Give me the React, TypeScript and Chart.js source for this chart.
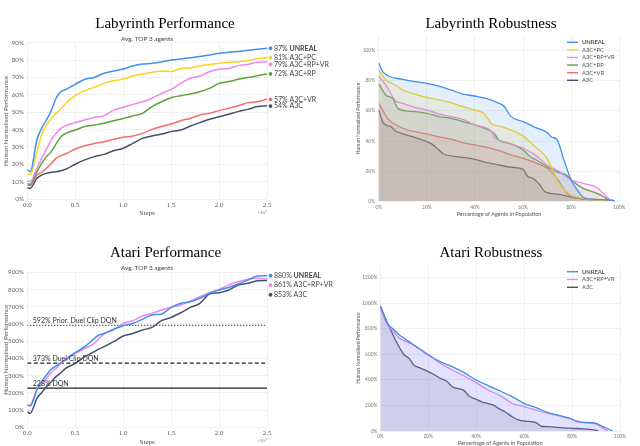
import React, { useEffect, useRef } from "react";
import { Chart, registerables } from "chart.js";
Chart.register(...registerables);

// ---------------- DATA ----------------
// Labyrinth Performance (x in units of 1e7 steps, y in %)
const labSteps = [0, 0.03, 0.1, 0.15, 0.2, 0.25, 0.3, 0.35, 0.4, 0.5, 0.6, 0.7, 0.8, 0.9, 1.0, 1.1, 1.2, 1.3, 1.4, 1.5, 1.6, 1.7, 1.8, 1.9, 2.0, 2.1, 2.2, 2.3, 2.4, 2.5];
const labUnreal = [17, 15.7, 34, 40.7, 45.5, 51, 58, 61.8, 63, 66, 69, 70, 72.4, 73.7, 74.8, 76.6, 77.7, 78.1, 78.9, 80, 80.6, 81.4, 82, 82.9, 83.9, 84.5, 85, 85.6, 86.2, 86.8];
const labPc = [14.8, 13.8, 27, 37, 42.6, 46.4, 49.3, 52, 55, 59.5, 62.4, 64.3, 66.6, 68.1, 69.1, 70.8, 72, 72.9, 73.7, 73.3, 75.2, 75.6, 76.6, 77.4, 78.1, 78.7, 79.1, 79.7, 80.8, 81.4];
const labRpVr = [10.4, 10, 17.7, 23.4, 28.6, 34, 37.8, 40.7, 42.2, 44, 45.5, 47, 48, 51.2, 52.8, 54.5, 56, 58, 60.8, 63.1, 66.6, 69.5, 70.8, 73.3, 74.7, 75.2, 76.8, 77.5, 78.7, 78.9];
const labRp = [9, 8.4, 15.7, 20.5, 24.4, 27.3, 31.7, 35.9, 37.8, 39.7, 41.7, 42.6, 43.6, 45.1, 46.4, 47.8, 49.3, 53.2, 56, 58.3, 59.5, 60.5, 61.8, 63.7, 66.6, 67.6, 68.9, 69.9, 71, 72];
const labVr = [8, 7.7, 13.8, 15.4, 17.7, 20.5, 23.4, 25, 25.9, 28.8, 30.7, 32, 33, 34.4, 35.5, 36.3, 37.8, 40.1, 41.7, 43.2, 45.1, 46.4, 48.4, 49.3, 50.9, 52.2, 53.7, 55.5, 56, 57.4];
const labA3c = [6.5, 6.1, 11.9, 13.8, 14.8, 15.4, 15.7, 16.3, 17.1, 20, 22.5, 24.4, 25.7, 27.8, 29.2, 32, 34.9, 36.3, 37.4, 38.8, 39.7, 42, 44, 45.9, 47.4, 48.8, 50.3, 51.6, 53.2, 53.7];

// Labyrinth Robustness (x: % of agents, y: %)
const labRobUnrealX = [0, 2, 10, 15, 20, 25, 30, 35, 40, 45, 50, 52, 55, 60, 65, 70, 72, 74, 77, 80, 83, 85, 90, 95, 98];
const labRobUnrealY = [92, 85.4, 81, 79.4, 78.3, 76.5, 73.9, 71.2, 69.9, 68.1, 65, 63.3, 56.2, 52.9, 49.1, 45.6, 42.5, 41.2, 27.4, 14.2, 6.4, 2.7, 1.3, 0.9, 0.4];
const labRobPcX = [0, 3, 7, 10, 15, 20, 25, 30, 35, 40, 44, 47, 50, 55, 60, 65, 70, 72, 75, 78, 80, 85, 90, 95];
const labRobPcY = [87.2, 80.5, 77.2, 73.9, 71.2, 69, 67.3, 65.5, 62.8, 60.6, 58, 51.3, 50, 47.3, 43.4, 36.3, 28.5, 21.9, 11.9, 6.4, 4.2, 2, 0.9, 0.4];
const labRobRpVrX = [0, 3, 7, 10, 15, 20, 25, 30, 35, 40, 45, 47, 48.5, 50, 55, 60, 65, 70, 75, 80, 85, 90, 93, 96, 98];
const labRobRpVrY = [83.2, 77.2, 66.8, 65, 62.4, 60.6, 58, 56.2, 54.4, 50.7, 48.5, 46.2, 41.8, 40.7, 38.1, 35.2, 30.8, 24.1, 19.7, 14.2, 11.9, 9.7, 5.8, 1.3, 0.4];
const labRobRpX = [0, 3, 6, 8, 15, 20, 25, 30, 35, 40, 45, 48, 50, 55, 60, 63, 65, 70, 75, 78, 80, 85, 90, 93, 96, 98];
const labRobRpY = [77.9, 70.6, 67.9, 61.7, 59.5, 58.4, 56.2, 55.1, 52.9, 50.7, 47.8, 45.1, 40.7, 38.1, 34.1, 29.6, 27.9, 23, 19, 17.5, 14.2, 8.6, 5.8, 3.5, 0.9, 0.4];
const labRobVrX = [0, 2, 4, 8, 10, 15, 20, 25, 30, 35, 40, 45, 50, 55, 60, 65, 70, 73, 75, 78, 80, 85, 90, 95, 98];
const labRobVrY = [65, 59.5, 54.4, 50, 48.5, 46.2, 44.7, 42.9, 41.2, 38.9, 37.4, 35.8, 33.6, 30.8, 28.5, 25.7, 21.9, 17.5, 13.1, 5.8, 3.1, 2, 1.3, 0.9, 0.2];
const labRobA3cX = [0, 2, 5, 7, 10, 15, 20, 22, 25, 27, 30, 35, 40, 45, 50, 55, 60, 62, 64, 67, 69, 75, 80, 85, 90, 95];
const labRobA3cY = [60.6, 51.8, 49.6, 46.7, 44.7, 42.5, 39.6, 38.1, 34.1, 31.4, 30.1, 29.2, 27.9, 25.7, 24.1, 22.6, 21.2, 16.4, 15.3, 10.8, 6.4, 4.6, 2.7, 1.5, 0.9, 0.4];

// Atari Performance
const atariSteps = [0, 0.03, 0.07, 0.1, 0.15, 0.2, 0.25, 0.3, 0.35, 0.4, 0.5, 0.6, 0.7, 0.75, 0.8, 0.9, 1.0, 1.1, 1.2, 1.3, 1.4, 1.5, 1.6, 1.7, 1.8, 1.9, 2.0, 2.1, 2.2, 2.3, 2.4, 2.5];
const atariUnreal = [130, 124, 168, 217, 265, 304, 337, 356, 375, 395, 433, 468, 516, 536, 545, 569, 590, 603, 627, 652, 658, 696, 720, 729, 749, 778, 797, 812, 832, 855, 878, 880];
const atariRpVr = [133, 126, 178, 220, 251, 284, 317, 342, 371, 391, 429, 458, 487, 516, 542, 565, 603, 619, 646, 661, 681, 696, 710, 733, 758, 781, 801, 826, 845, 859, 865, 861];
const atariA3c = [91, 81, 124, 168, 201, 236, 265, 294, 317, 342, 371, 410, 439, 455, 468, 497, 530, 545, 565, 580, 619, 638, 665, 696, 720, 774, 781, 797, 826, 836, 851, 853];
const atariRefValues = [592, 373, 228];
const atariRefNames = ["Prior. Duel Clip DQN", "Duel Clip DQN", "DQN"];

// Atari Robustness
const atariRobUnrealX = [0, 3, 5, 8, 10, 12, 15, 20, 25, 30, 35, 40, 45, 50, 55, 60, 65, 70, 75, 80, 82, 88, 90, 93, 96, 97];
const atariRobUnrealY = [979, 843, 804, 752, 726, 700, 661, 595, 543, 504, 457, 399, 355, 313, 269, 217, 183, 144, 120, 94, 73, 65, 60, 34, 8, 0];
const atariRobRpVrX = [0, 3, 5, 8, 10, 15, 20, 25, 30, 35, 40, 45, 50, 55, 60, 65, 70, 75, 80, 85, 90, 93, 95];
const atariRobRpVrY = [961, 830, 791, 726, 708, 661, 601, 530, 478, 431, 379, 321, 277, 217, 191, 164, 138, 117, 91, 65, 55, 21, 0];
const atariRobA3cX = [0, 3, 5, 7, 9, 10, 12, 14, 17, 20, 22, 25, 28, 30, 35, 37, 40, 42, 47, 50, 52, 55, 58, 60, 65, 67, 70, 75, 80, 85, 89, 91];
const atariRobA3cY = [979, 843, 765, 687, 621, 595, 569, 517, 491, 465, 446, 413, 386, 347, 316, 274, 248, 230, 204, 170, 151, 112, 86, 78, 65, 39, 34, 26, 21, 16, 8, 0];

const NAME_UNREAL = "UNREAL";
const NAME_PC = "A3C+PC";
const NAME_RPVR = "A3C+RP+VR";
const NAME_RP = "A3C+RP";
const NAME_VR = "A3C+VR";
const NAME_A3C = "A3C";

// ---------------- STYLE ----------------
const COL = {
  unreal: "#4290ea",
  pc: "#fdd31c",
  rpvr: "#ee86ee",
  rp: "#5ca13c",
  vr: "#f36d6d",
  a3c: "#46516a",
};
const SANS = "Lato";
const SERIF = "'Liberation Serif'";

const pts = (xs: number[], ys: number[]) => xs.map((x, i) => ({ x, y: ys[i] }));
function rgba(hex: string, a: number) {
  const n = parseInt(hex.slice(1), 16);
  return `rgba(${(n >> 16) & 255},${(n >> 8) & 255},${n & 255},${a})`;
}
const fixX = (h: number) => (s: any) => { s.height = h; s.paddingLeft = 0; s.paddingRight = 0; };
const fixY = (w: number) => (s: any) => { s.width = w; s.paddingTop = 0; s.paddingBottom = 0; };

// ---------------- PLUGINS ----------------
const endLabelsPlugin = {
  id: "endLabels",
  afterDatasetsDraw(chart: any, _a: any, opts: any) {
    const { ctx, chartArea } = chart;
    const items: any[] = [];
    chart.data.datasets.forEach((ds: any, i: number) => {
      if (ds.isRef) return;
      const meta = chart.getDatasetMeta(i);
      const el = meta.data[meta.data.length - 1];
      const v = ds.data[ds.data.length - 1].y;
      items.push({ y: el.y, v, color: ds.borderColor, label: ds.label, bold: ds.label === NAME_UNREAL });
    });
    items.sort((a, b) => a.y - b.y);
    for (let k = 1; k < items.length; k++) {
      if (items[k].y - items[k - 1].y < opts.gap) items[k].y = items[k - 1].y + opts.gap;
    }
    ctx.save();
    ctx.textBaseline = "middle";
    items.forEach((it) => {
      const x0 = chartArea.right + 3.5;
      ctx.fillStyle = it.color;
      ctx.beginPath();
      ctx.arc(x0, it.y, 1.9, 0, Math.PI * 2);
      ctx.fill();
      const pre = `${Math.round(it.v)}% `;
      ctx.font = `${opts.size}px ${SANS}`;
      ctx.fillStyle = "#444";
      ctx.fillText(pre, x0 + 3.5, it.y);
      const w = ctx.measureText(pre).width;
      ctx.font = `${it.bold ? "bold " : ""}${opts.size}px ${SANS}`;
      ctx.fillText(it.label, x0 + 3.5 + w, it.y);
    });
    ctx.restore();
  },
};

const refLabelsPlugin = {
  id: "refLabels",
  afterDatasetsDraw(chart: any) {
    const { ctx, chartArea, scales } = chart;
    ctx.save();
    ctx.font = `7px ${SANS}`;
    ctx.fillStyle = "#333";
    ctx.textBaseline = "middle";
    chart.data.datasets.forEach((ds: any) => {
      if (!ds.isRef) return;
      const v = ds.data[0].y;
      const y = scales.y.getPixelForValue(v);
      ctx.fillText(`${v}% ${ds.label}`, chartArea.left + 5.5, y - 4.2);
    });
    ctx.restore();
  },
};

const expPlugin = {
  id: "expLabel",
  afterDraw(chart: any) {
    const { ctx, chartArea } = chart;
    ctx.save();
    ctx.font = `4.5px ${SERIF}`;
    ctx.fillStyle = "#666";
    ctx.textAlign = "right";
    ctx.textBaseline = "middle";
    const w = ctx.measureText("7").width;
    ctx.fillText("×10", chartArea.right - w, chartArea.bottom + 13.8);
    ctx.font = `3.5px ${SERIF}`;
    ctx.fillText("7", chartArea.right, chartArea.bottom + 12.6);
    ctx.restore();
  },
};

const robLegendPlugin = {
  id: "robLegend",
  afterDraw(chart: any, _a: any, opts: any) {
    const { ctx, chartArea } = chart;
    const x0 = chartArea.right + opts.dx;
    let y = chartArea.top + opts.dy;
    ctx.save();
    ctx.textBaseline = "middle";
    chart.data.datasets.forEach((ds: any) => {
      ctx.strokeStyle = ds.borderColor;
      ctx.lineWidth = 1.4;
      ctx.beginPath();
      ctx.moveTo(x0, y);
      ctx.lineTo(x0 + 11, y);
      ctx.stroke();
      ctx.fillStyle = "#555";
      ctx.font = `${ds.label === NAME_UNREAL ? "bold " : ""}5.8px ${SANS}`;
      ctx.fillText(ds.label, x0 + 15, y);
      y += opts.step;
    });
    ctx.restore();
  },
};

// ---------------- CONFIG BUILDERS ----------------
const GRID = { color: "#ececec", lineWidth: 0.8, drawTicks: false };

function perfScales(yMax: number, yStep: number, yW: number, xH: number, xTitlePad: number) {
  return {
    x: {
      type: "linear",
      min: 0,
      max: 2.5,
      ticks: { stepSize: 0.5, autoSkip: false, maxRotation: 0, callback: (v: any) => Number(v).toFixed(1), font: { family: SERIF, size: 7 }, color: "#555", padding: 1.5 },
      grid: GRID,
      border: { display: false },
      title: { display: true, text: "Steps", font: { family: SERIF, size: 7, lineHeight: 1 }, color: "#444", padding: { top: 0, bottom: xTitlePad } },
      afterFit: fixX(xH),
    },
    y: {
      type: "linear",
      min: 0,
      max: yMax,
      ticks: { stepSize: yStep, callback: (v: any) => `${v}%`, font: { family: SANS, size: 6.3 }, color: "#666", padding: 3.3 },
      grid: GRID,
      border: { display: false },
      title: { display: true, text: "Human Normalised Performance", font: { family: SANS, size: 6.3, lineHeight: 1 }, color: "#555", padding: { top: 2.5, bottom: 0 } },
      afterFit: fixY(yW),
    },
  };
}

function robScales(yMax: number, yStep: number, yW: number, xH: number, xTickPad: number, xTitlePad: number, yTickPad: number) {
  return {
    x: {
      type: "linear",
      min: 0,
      max: 100,
      ticks: { stepSize: 20, autoSkip: false, maxRotation: 0, callback: (v: any) => `${v}%`, font: { family: SANS, size: 4.8 }, color: "#777", padding: xTickPad },
      grid: GRID,
      border: { display: false },
      title: { display: true, text: "Percentage of Agents in Population", font: { family: SANS, size: 5.5, lineHeight: 1 }, color: "#555", padding: { top: 0, bottom: xTitlePad } },
      afterFit: fixX(xH),
    },
    y: {
      type: "linear",
      min: 0,
      max: yMax,
      ticks: { stepSize: yStep, includeBounds: false, callback: (v: any) => `${v}%`, font: { family: SANS, size: 4.8 }, color: "#777", padding: yTickPad },
      grid: GRID,
      border: { display: false },
      title: { display: true, text: "Human Normalised Performance", font: { family: SANS, size: 5, lineHeight: 1 }, color: "#555", padding: { top: 35.8, bottom: 0 } },
      afterFit: fixY(yW),
    },
  };
}

function lineDs(label: string, data: any[], color: string, extra: any = {}) {
  return {
    label,
    data,
    borderColor: color,
    backgroundColor: color,
    borderWidth: 1.5,
    pointRadius: 0,
    cubicInterpolationMode: "monotone",
    fill: false,
    ...extra,
  };
}

function labPerfConfig(): any {
  return {
    type: "line",
    data: {
      datasets: [
        lineDs(NAME_UNREAL, pts(labSteps, labUnreal), COL.unreal),
        lineDs(NAME_PC, pts(labSteps, labPc), COL.pc),
        lineDs(NAME_RPVR, pts(labSteps, labRpVr), COL.rpvr),
        lineDs(NAME_RP, pts(labSteps, labRp), COL.rp),
        lineDs(NAME_VR, pts(labSteps, labVr), COL.vr),
        lineDs(NAME_A3C, pts(labSteps, labA3c), COL.a3c),
      ],
    },
    options: {
      animation: false,
      responsive: true,
      maintainAspectRatio: false,
      layout: { padding: { left: 0, top: 42.7, right: 73, bottom: 0 } },
      scales: perfScales(90, 10, 27.3, 26, 8.2),
      plugins: { legend: { display: false }, tooltip: { enabled: false }, endLabels: { gap: 6.8, size: 7 } },
    },
    plugins: [endLabelsPlugin, expPlugin],
  };
}

function atariPerfConfig(): any {
  const dashes = [[1, 2], [4, 2.5], []];
  const refs = atariRefValues.map((v, i) =>
    lineDs(atariRefNames[i], [{ x: 0, y: v }, { x: 2.5, y: v }], "#222", { isRef: true, borderDash: dashes[i], borderWidth: 1.2, cubicInterpolationMode: "default", tension: 0 })
  );
  return {
    type: "line",
    data: {
      datasets: [
        lineDs(NAME_UNREAL, pts(atariSteps, atariUnreal), COL.unreal),
        lineDs(NAME_RPVR, pts(atariSteps, atariRpVr), COL.rpvr),
        lineDs(NAME_A3C, pts(atariSteps, atariA3c), COL.a3c),
        ...refs,
      ],
    },
    options: {
      animation: false,
      responsive: true,
      maintainAspectRatio: false,
      layout: { padding: { left: 0, top: 47.3, right: 73, bottom: 0 } },
      scales: perfScales(900, 100, 27.3, 18.7, 0.2),
      plugins: { legend: { display: false }, tooltip: { enabled: false }, endLabels: { gap: 9.5, size: 7 } },
    },
    plugins: [endLabelsPlugin, refLabelsPlugin, expPlugin],
  };
}

function robDs(label: string, data: any[], color: string) {
  return lineDs(label, data, color, { fill: "origin", backgroundColor: rgba(color, 0.14), borderWidth: 1.3 });
}

function labRobConfig(): any {
  return {
    type: "line",
    data: {
      datasets: [
        robDs(NAME_UNREAL, pts(labRobUnrealX, labRobUnrealY), COL.unreal),
        robDs(NAME_PC, pts(labRobPcX, labRobPcY), COL.pc),
        robDs(NAME_RPVR, pts(labRobRpVrX, labRobRpVrY), COL.rpvr),
        robDs(NAME_RP, pts(labRobRpX, labRobRpY), COL.rp),
        robDs(NAME_VR, pts(labRobVrX, labRobVrY), COL.vr),
        robDs(NAME_A3C, pts(labRobA3cX, labRobA3cY), COL.a3c),
      ],
    },
    options: {
      animation: false,
      responsive: true,
      maintainAspectRatio: false,
      layout: { padding: { left: 0, top: 35.6, right: 20.7, bottom: 0 } },
      scales: robScales(110, 20, 58.7, 23.7, 3.1, 8, 3.7),
      plugins: { legend: { display: false }, tooltip: { enabled: false }, robLegend: { dx: -52.3, dy: 6.7, step: 7.6 } },
    },
    plugins: [robLegendPlugin],
  };
}

function atariRobConfig(): any {
  return {
    type: "line",
    data: {
      datasets: [
        robDs(NAME_UNREAL, pts(atariRobUnrealX, atariRobUnrealY), COL.unreal),
        robDs(NAME_RPVR, pts(atariRobRpVrX, atariRobRpVrY), COL.rpvr),
        robDs(NAME_A3C, pts(atariRobA3cX, atariRobA3cY), COL.a3c),
      ],
    },
    options: {
      animation: false,
      responsive: true,
      maintainAspectRatio: false,
      layout: { padding: { left: 0, top: 40, right: 20, bottom: 0 } },
      scales: robScales(1300, 200, 60.3, 19, 2.8, 3.95, 3),
      plugins: { legend: { display: false }, tooltip: { enabled: false }, robLegend: { dx: -53, dy: 6.7, step: 7.8 } },
    },
    plugins: [robLegendPlugin],
  };
}

// ---------------- COMPONENTS ----------------
function ChartBox({ left, top, width, height, build }: { left: number; top: number; width: number; height: number; build: () => any }) {
  const ref = useRef<HTMLCanvasElement>(null);
  useEffect(() => {
    const chart = new Chart(ref.current as HTMLCanvasElement, build());
    return () => chart.destroy();
  }, []);
  return (
    <div style={{ position: "absolute", left, top, width, height }}>
      <canvas ref={ref} style={{ display: "block" }} />
    </div>
  );
}

function Title({ x, y, text }: { x: number; y: number; text: string }) {
  return (
    <div style={{ position: "absolute", left: x, top: y, transform: "translate(-50%,-50%)", fontFamily: "'Liberation Serif', serif", fontSize: 15, lineHeight: 1, whiteSpace: "nowrap", color: "#000" }}>
      {text}
    </div>
  );
}

function Sub({ x, y, text }: { x: number; y: number; text: string }) {
  return (
    <div style={{ position: "absolute", left: x, top: y, transform: "translate(-50%,-50%)", fontFamily: "Lato, sans-serif", fontSize: 6.5, lineHeight: 1, whiteSpace: "nowrap", color: "#444" }}>
      {text}
    </div>
  );
}

export default function App() {
  return (
    <div style={{ position: "absolute", left: 0, top: 0, width: 640, height: 446, overflow: "hidden", background: "#fff" }}>
      <ChartBox left={0} top={0} width={340} height={225} build={labPerfConfig} />
      <ChartBox left={320} top={0} width={320} height={225} build={labRobConfig} />
      <ChartBox left={0} top={225} width={340} height={221} build={atariPerfConfig} />
      <ChartBox left={320} top={225} width={320} height={225} build={atariRobConfig} />
      <Title x={165} y={22.7} text="Labyrinth Performance" />
      <Sub x={147} y={38.7} text="Avg. TOP 3 agents" />
      <Title x={491} y={22.7} text="Labyrinth Robustness" />
      <Title x={165.5} y={251.7} text="Atari Performance" />
      <Sub x={147} y={267.7} text="Avg. TOP 3 agents" />
      <Title x={491} y={251.7} text="Atari Robustness" />
    </div>
  );
}
